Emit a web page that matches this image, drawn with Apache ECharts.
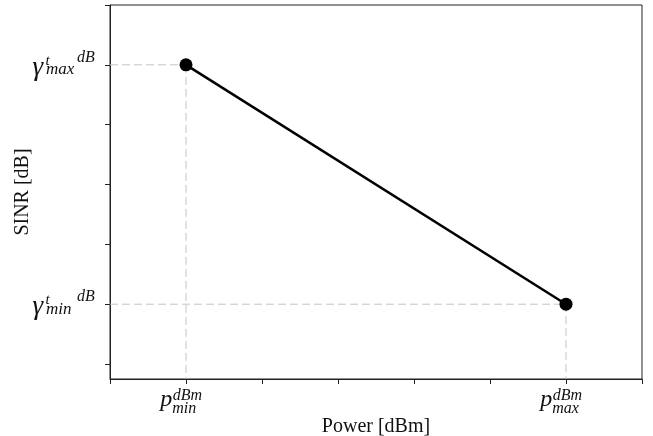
<!DOCTYPE html>
<html>
<head>
<meta charset="utf-8">
<script src="https://cdn.jsdelivr.net/npm/echarts@6/dist/echarts.min.js"></script>
<style>
  html, body { margin: 0; padding: 0; background: #fff; }
  #chart { width: 653px; height: 436px; }
</style>
</head>
<body>
<div id="chart"></div>
<script>
// data (axis units are arbitrary: tick steps)
const powerPoints = [1, 6]          // p_min, p_max
const sinrPoints = [5, 1]           // gamma_max, gamma_min
const xTicks = [0, 1, 2, 3, 4, 5, 6, 7]
const yTicks = [0, 1, 2, 3, 4, 5, 6]
const xLabelKeys = { 1: 'min', 6: 'max' }
const yLabelKeys = { 5: 'max', 1: 'min' }

const xMin = 0, xMax = 7
const yMin = -0.25, yMax = 6

const serif = '"Liberation Serif", "DejaVu Serif", serif'
const ink = '#111'

const chart = echarts.init(document.getElementById('chart'), null, { renderer: 'canvas' })

// dashed guides from axes to each point
const guides = []
powerPoints.forEach((x, i) => {
  const y = sinrPoints[i]
  guides.push([[xMin, y], [x, y]])
  guides.push([[x, y], [x, yMin]])
})

// math-ish token helper: italic serif, placed from the top of the line
const tok = (fontSize, width, top, lineHeight) => ({
  fontSize, width, align: 'left', fontStyle: 'italic', fontFamily: serif, color: ink,
  verticalAlign: 'top', lineHeight, padding: [top, 0, 0, 0],
})

// gamma^t_sub ^dB
const yRich = {
  g: tok(27, 13, 6.6, 34),
  t: tok(15, 0.5, 5.4, 34),
  m: tok(17, 31, 13.6, 34),
  d: tok(16, 19, 1.6, 34),
}

// p^dBm_sub
const xRich = {
  p: tok(24, 12, 2.5, 30),
  n: tok(16, 0.5, 16, 30),
  s: tok(16, 35, 3, 30),
}

const option = {
  animation: false,
  grid: {
    left: 110, right: 11, top: 5, bottom: 57,
    outerBoundsMode: 'none',
    show: true, borderColor: '#222', borderWidth: 1, backgroundColor: 'transparent',
  },
  xAxis: {
    type: 'value',
    min: xMin, max: xMax, interval: 1,
    name: 'Power [dBm]',
    nameLocation: 'middle',
    nameGap: 38,
    nameMoveOverlap: false,
    nameTextStyle: { fontFamily: serif, fontSize: 20, color: ink },
    axisLine: { show: true, onZero: false, lineStyle: { color: '#222', width: 1 } },
    axisTick: { show: true, length: 5, lineStyle: { color: '#222' }, customValues: xTicks },
    splitLine: { show: false },
    axisLabel: {
      customValues: powerPoints,
      margin: 6,
      padding: [0, 4, 0, 0],
      formatter: v => '{p|p}{n|' + xLabelKeys[v] + '}{s|dBm}',
      rich: xRich,
    },
  },
  yAxis: {
    type: 'value',
    min: yMin, max: yMax,
    name: 'SINR [dB]',
    nameLocation: 'middle',
    nameGap: 77,
    nameMoveOverlap: false,
    nameTextStyle: { fontFamily: serif, fontSize: 20, color: ink },
    axisLine: { show: true, onZero: false, lineStyle: { color: '#222', width: 1 } },
    axisTick: { show: true, length: 5, lineStyle: { color: '#222' }, customValues: yTicks },
    splitLine: { show: false },
    axisLabel: {
      customValues: sinrPoints,
      margin: 14,
      formatter: v => '{g|γ}{t|t}{m|' + yLabelKeys[v] + '}{d|dB}',
      rich: yRich,
    },
  },
  series: [
    ...guides.map(seg => ({
      type: 'line',
      data: seg,
      symbol: 'none',
      silent: true,
      z: 1,
      lineStyle: { color: '#c4c4c4', width: 1, type: [8, 4] },
    })),
    {
      name: 'SINR',
      type: 'line',
      data: powerPoints.map((x, i) => [x, sinrPoints[i]]),
      symbol: 'circle',
      symbolSize: 13,
      z: 5,
      itemStyle: { color: '#000' },
      lineStyle: { color: '#000', width: 2.5 },
    },
  ],
}

chart.setOption(option)
</script>
</body>
</html>
